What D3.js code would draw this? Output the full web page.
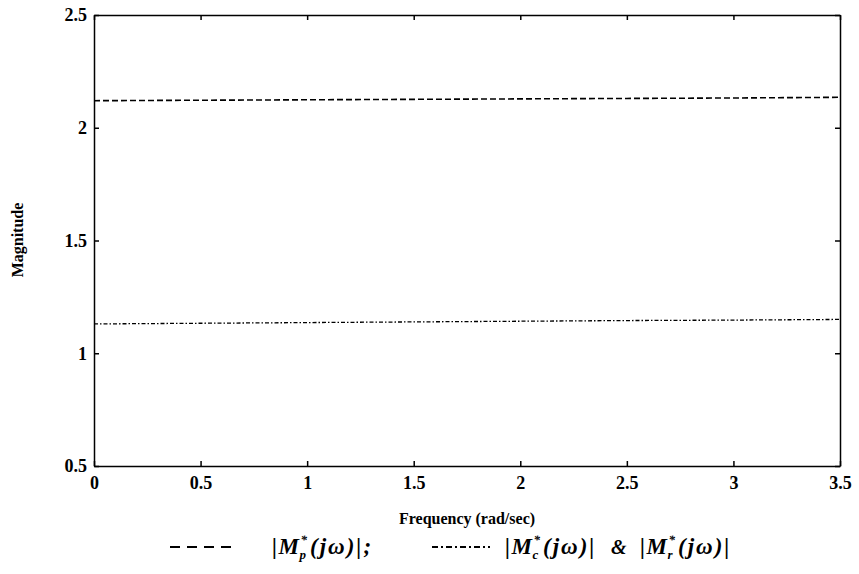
<!DOCTYPE html>
<html><head><meta charset="utf-8">
<script src="https://cdn.jsdelivr.net/npm/d3@7"></script>
<style>body{margin:0;background:#fff}svg{display:block}text{font-family:"Liberation Serif","DejaVu Serif",serif;fill:#000}</style>
</head><body><svg id="c" width="859" height="574"></svg>
<script>
const freq = [0, 0.5, 1, 1.5, 2, 2.5, 3, 3.5];
const magP = [2.120, 2.122, 2.124, 2.126, 2.128, 2.130, 2.132, 2.135];
const magCR = [1.130, 1.133, 1.136, 1.139, 1.142, 1.145, 1.147, 1.150];
const xTicks = [0, 0.5, 1, 1.5, 2, 2.5, 3, 3.5];
const yTicks = [0.5, 1, 1.5, 2, 2.5];

const svg = d3.select("#c");
const L = 94, R = 840, T = 15, B = 466;
const x = d3.scaleLinear().domain([0, 3.5]).range([L, R]);
const y = d3.scaleLinear().domain([0.5, 2.5]).range([B, T]);

const g = svg.append("g");
const ax = d3.axisBottom(x).tickValues(xTicks).tickFormat(d3.format("~g")).tickSizeInner(-5).tickSizeOuter(0).tickPadding(10);
const ay = d3.axisLeft(y).tickValues(yTicks).tickFormat(d3.format("~g")).tickSizeInner(-5).tickSizeOuter(0).tickPadding(7);
const axT = d3.axisTop(x).tickValues(xTicks).tickFormat("").tickSizeInner(-5).tickSizeOuter(0);
const ayR = d3.axisRight(y).tickValues(yTicks).tickFormat("").tickSizeInner(-5).tickSizeOuter(0);
[[ax, `translate(0,${B})`], [ay, `translate(${L},0)`], [axT, `translate(0,${T})`], [ayR, `translate(${R},0)`]].forEach(([a, t]) => {
  const s = g.append("g").attr("transform", t).call(a);
  s.selectAll("path").attr("stroke", "#000").attr("stroke-width", 1.5);
  s.selectAll("line").attr("stroke", "#000").attr("stroke-width", 1.5);
  s.selectAll("text").attr("font-size", 18).attr("font-weight", "bold").attr("font-family", '"Liberation Serif",serif');
});

const line = d3.line().x((d, i) => x(freq[i])).y(d => y(d));
g.append("path").attr("d", line(magP)).attr("fill", "none").attr("stroke", "#000").attr("stroke-width", 1.6).attr("stroke-dasharray", "6,3");
g.append("path").attr("d", line(magCR)).attr("fill", "none").attr("stroke", "#000").attr("stroke-width", 1.3).attr("stroke-dasharray", "4,2,1.5,2");

svg.append("text").attr("x", 467).attr("y", 524).attr("text-anchor", "middle").attr("font-size", 16).attr("font-weight", "bold").text("Frequency (rad/sec)");
svg.append("text").attr("transform", "translate(23,240) rotate(-90)").attr("text-anchor", "middle").attr("font-size", 16).attr("font-weight", "bold").text("Magnitude");

// legend
const ly = 554;
svg.append("line").attr("x1", 170).attr("x2", 238).attr("y1", ly - 7).attr("y2", ly - 7).attr("stroke", "#000").attr("stroke-width", 2).attr("stroke-dasharray", "10,7");
svg.append("line").attr("x1", 432).attr("x2", 490).attr("y1", ly - 7).attr("y2", ly - 7).attr("stroke", "#000").attr("stroke-width", 1.8).attr("stroke-dasharray", "6,3,2,3");

function piece(str, size, dy, ls) {
  return svg.append("text").attr("y", ly + dy).attr("font-size", size).attr("font-weight", "bold").attr("font-style", "italic").attr("letter-spacing", ls).text(str);
}
function term(x0, sub, tail) {
  const m = piece("|M", 23, 0, 1.5);
  const sup = piece("*", 13, -10, 0);
  const sb = piece(sub, 13, 5, 0);
  const rest = piece("(jω)|" + (tail || ""), 23, 0, 2);
  const mw = m.node().getComputedTextLength();
  const sw = Math.max(sup.node().getComputedTextLength(), sb.node().getComputedTextLength());
  m.attr("x", x0);
  const sx = x0 + mw;
  sup.attr("x", sx); sb.attr("x", sx - 1);
  rest.attr("x", sx + sw + 3);
}
term(272, "p", ";");
term(505, "c");
svg.append("text").attr("x", 611).attr("y", ly).attr("font-size", 20).attr("font-weight", "bold").attr("font-style", "italic").text("&");
term(640, "r");
</script></body></html>
